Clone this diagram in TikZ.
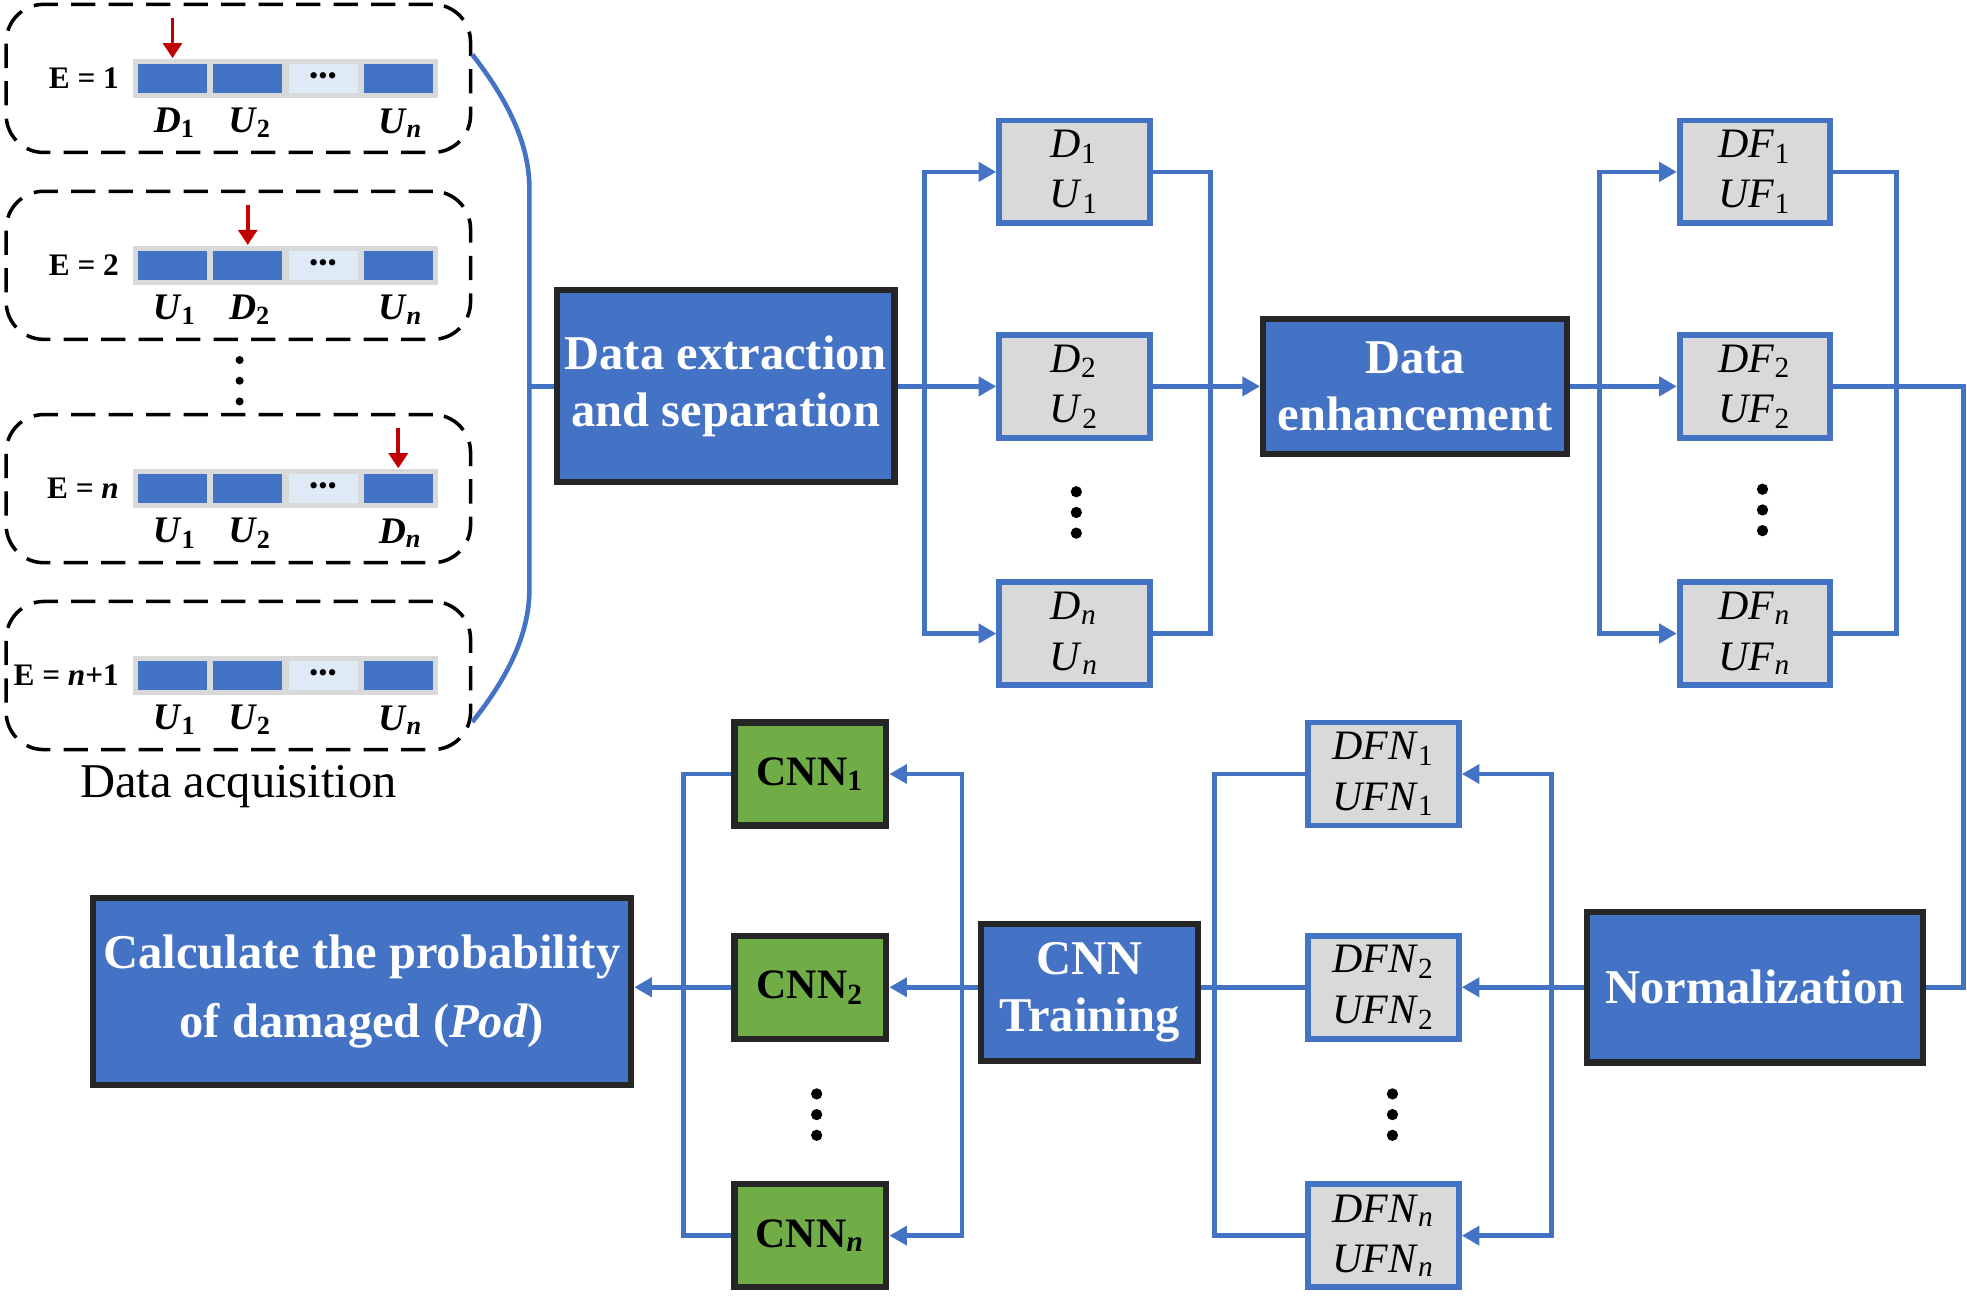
\documentclass[tikz,border=0pt]{standalone}
\usepackage{fontspec}
\setmainfont{Liberation Serif}
\usetikzlibrary{arrows.meta,calc}

\definecolor{officeblue}{HTML}{4472C4}
\definecolor{edgedark}{HTML}{262626}
\definecolor{boxgray}{HTML}{D9D9D9}
\definecolor{cnngreen}{HTML}{70AD47}
\definecolor{cellpale}{HTML}{DEEBF7}
\definecolor{markred}{HTML}{C00000}

\newcommand{\vsub}[2]{\textit{#1}\textsubscript{#2}}
\newcommand{\vn}{\textit{n}}

\tikzset{
	mainbox/.style={draw=edgedark, line width=1.4pt, fill=officeblue, text=white, align=center, inner sep=0pt, font=\bfseries\fontsize{11}{12.8}\selectfont},
	databox/.style={draw=officeblue, line width=1.3pt, fill=boxgray, align=center, inner sep=0pt, minimum width=1.20cm, minimum height=0.82cm, font=\fontsize{9.5}{11.4}\selectfont},
	cnnbox/.style={draw=edgedark, line width=1.4pt, fill=cnngreen, inner sep=0pt, minimum width=1.21cm, minimum height=0.82cm, font=\bfseries\fontsize{9.5}{11}\selectfont},
	flow/.style={draw=officeblue, line width=1.05pt},
	flowhead/.style={-{Triangle[length=0.14cm,width=0.15cm]}},
	acqbox/.style={draw=black, line width=0.8pt, dash pattern=on 5.5pt off 3pt, rounded corners=0.3cm, minimum width=3.7cm, minimum height=1.18cm},
	barcell/.style={inner sep=0pt, minimum width=0.55cm, minimum height=0.23cm},
	barlbl/.style={font=\bfseries\fontsize{8.5}{10}\selectfont, inner sep=1pt},
	elbl/.style={font=\bfseries\fontsize{7.1}{9}\selectfont, inner sep=1pt, anchor=east},
	hitarrow/.style={draw=markred, line width=0.9pt, -{Triangle[length=0.12cm,width=0.15cm]}},
}

\begin{document}
\begin{tikzpicture}[x=0.01cm,y=-0.01cm]
	\useasboundingbox (0,0) rectangle (1568,1039);

	% Data acquisition rows
	\foreach \yc/\etext/\la/\lb/\lc/\hit [count=\i] in {
		62.5/{E = 1}/{\vsub{D}{1}}/{\vsub{U}{2}}/{\vsub{U}{\vn}}/1,
		211.5/{E = 2}/{\vsub{U}{1}}/{\vsub{D}{2}}/{\vsub{U}{\vn}}/2,
		389.5/{E = \vn}/{\vsub{U}{1}}/{\vsub{U}{2}}/{\vsub{D}{\vn}}/4,
		538.5/{E = \vn+1}/{\vsub{U}{1}}/{\vsub{U}{2}}/{\vsub{U}{\vn}}/0}{
		\node[acqbox] (acq\i) at (190,\yc) {};
		\node[elbl] (elbl\i) at (99,\yc) {\etext};
		\node[barcell, fill=boxgray, minimum width=2.43cm, minimum height=0.31cm] (bar\i) at (227.5,\yc) {};
		\foreach \k/\cc in {1/officeblue,2/officeblue,3/cellpale,4/officeblue}
			\node[barcell, fill=\cc] (c\i\k) at (77.5+60*\k,\yc) {};
		\node[font=\fontsize{6}{6}\selectfont, inner sep=0pt] (dots\i) at (c\i3) {•••};
		\node[barlbl] (la\i) at (139.5,\yc+35.5) {\la};
		\node[barlbl] (lb\i) at (199.5,\yc+35.5) {\lb};
		\node[barlbl] (lc\i) at (319.5,\yc+35.5) {\lc};
		\ifnum\hit>0
			\draw[hitarrow] ($(c\i\hit.north |- bar\i.north)+(0,-32)$) -- (c\i\hit.north |- bar\i.north);
		\fi
	}
	\foreach \j in {0,1,2}
		\fill (191,287+16.5*\j) circle[radius=3.2];
	\node[font=\fontsize{11}{13}\selectfont] (acqtitle) at (190,627) {Data acquisition};

	% Main blocks
	\node[mainbox, minimum width=2.69cm, minimum height=1.53cm] (extract) at (578.5,308) {Data extraction\\and separation};
	\node[mainbox, minimum width=2.42cm, minimum height=1.08cm] (enhance) at (1128,308) {Data\\enhancement};
	\node[mainbox, minimum width=2.68cm, minimum height=1.20cm] (normal) at (1399,787) {Normalization};
	\node[mainbox, minimum width=1.73cm, minimum height=1.09cm] (train) at (868.5,791) {CNN\\Training};
	\node[mainbox, minimum width=4.29cm, minimum height=1.49cm, font=\bfseries\fontsize{11}{15.6}\selectfont] (calc) at (288.5,790.5) {Calculate the probability\\of damaged (\textit{Pod})};

	% Data boxes
	\foreach \nm/\s/\yy in {1/1/137,2/2/308,n/\vn/505}{
		\node[databox] (d\nm) at (856.5,\yy) {\vsub{D}{\s}\\\vsub{U}{\s}};
		\node[databox] (df\nm) at (1399,\yy) {\vsub{DF}{\s}\\\vsub{UF}{\s}};
	}
	\foreach \nm/\s/\yy in {1/1/617,2/2/787,n/\vn/985}{
		\node[databox] (dfn\nm) at (1103,\yy) {\vsub{DFN}{\s}\\\vsub{UFN}{\s}};
		\node[cnnbox] (cnn\nm) at (646,\yy) {CNN\textsubscript{\s}};
	}
	\foreach \dx/\dy in {858/392,1405/390,1110/872,651/872}
		\foreach \j in {0,1,2}
			\fill (\dx,\dy+16.5*\j) circle[radius=4.5];

	% Bracket joining the acquisition rows
	\coordinate (brtop) at ($(acq1.east)+(0,-19)$);
	\coordinate (brbot) at ($(acq4.east)+(0,37)$);
	\coordinate (brmid) at (422,308);
	\draw[flow] (brtop) .. controls (405,80) and (422,115) .. (422,150) -- (422,470) .. controls (422,505) and (405,540) .. (brbot);
	\draw[flow] (brmid) -- (extract.west);

	% Split to D/U boxes and merge
	\coordinate (split1) at (737,308);
	\draw[flow,flowhead] (extract.east) -- (d2.west);
	\draw[flow,flowhead] (split1) |- (d1.west);
	\draw[flow,flowhead] (split1) |- (dn.west);
	\coordinate (merge1) at (965,308);
	\draw[flow] (d1.east) -| (merge1) |- (dn.east);
	\draw[flow,flowhead] (d2.east) -- (enhance.west);

	% Split to DF boxes and merge
	\coordinate (split2) at (1275,308);
	\draw[flow,flowhead] (enhance.east) -- (df2.west);
	\draw[flow,flowhead] (split2) |- (df1.west);
	\draw[flow,flowhead] (split2) |- (dfn.west);
	\coordinate (merge2) at (1512,308);
	\draw[flow] (df1.east) -| (merge2) |- (dfn.east);
	\coordinate (turn) at (1565,787);
	\draw[flow] (df2.east) -| (turn) -- (normal.east);

	% Lower row, right to left
	\coordinate (split3) at (1237,787);
	\draw[flow,flowhead] (normal.west) -- (dfn2.east);
	\draw[flow,flowhead] (split3) |- (dfn1.east);
	\draw[flow,flowhead] (split3) |- (dfnn.east);
	\coordinate (merge3) at (968,787);
	\draw[flow] (dfn1.west) -| (merge3) |- (dfnn.west);
	\draw[flow] (dfn2.west) -- (dfn2.west -| train.east);

	\coordinate (split4) at (767,787);
	\draw[flow,flowhead] (train.west |- cnn2.east) -- (cnn2.east);
	\draw[flow,flowhead] (split4) |- (cnn1.east);
	\draw[flow,flowhead] (split4) |- (cnnn.east);
	\coordinate (merge4) at (545,787);
	\draw[flow] (cnn1.west) -| (merge4) |- (cnnn.west);
	\draw[flow,flowhead] (cnn2.west) -- (calc.east |- cnn2.west);
\end{tikzpicture}
\end{document}
